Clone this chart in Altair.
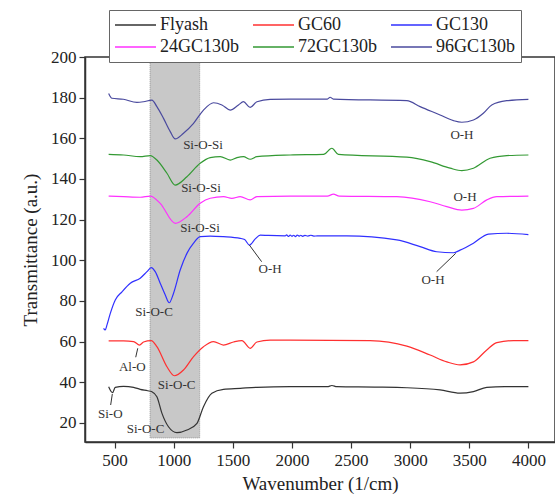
import altair as alt
import pandas as pd

# ---- data ----
series_names = ["Flyash", "GC60", "GC130", "24GC130b", "72GC130b", "96GC130b"]
series_colors = ["#333333", "#ff3030", "#3030ff", "#ff30ff", "#339933", "#4a4a9e"]

flyash_x = [450, 483, 506, 576, 661, 717, 780, 816, 858, 901, 956, 1027, 1112, 1197, 1252, 1323, 1421, 1563, 1704, 1985, 2300, 2338, 2380, 2700, 2972, 3253, 3422, 3535, 3648, 3800, 4000]
flyash_y = [37.8, 34.9, 37.5, 38.0, 37.5, 36.5, 35.8, 35.3, 32.9, 24.7, 18.1, 15.2, 16.5, 19.8, 28.0, 34.6, 36.5, 37.0, 37.5, 37.8, 37.8, 38.4, 37.8, 37.6, 37.3, 36.2, 34.6, 35.4, 37.5, 37.8, 37.8]

gc60_x = [450, 576, 661, 711, 745, 810, 858, 943, 1005, 1083, 1168, 1252, 1337, 1421, 1506, 1577, 1647, 1704, 1816, 1985, 2661, 2972, 3169, 3310, 3422, 3535, 3648, 3733, 3874, 4000]
gc60_y = [60.3, 60.3, 60.0, 58.3, 59.8, 60.5, 57.5, 47.6, 43.2, 46.0, 52.6, 57.5, 60.0, 58.3, 59.8, 60.5, 56.7, 59.8, 60.7, 60.7, 60.5, 57.8, 53.4, 50.0, 48.5, 50.0, 55.9, 59.5, 60.5, 60.5]

gc130_x = [407, 421, 436, 464, 506, 563, 633, 717, 774, 810, 844, 886, 929, 962, 999, 1055, 1112, 1168, 1224, 1309, 1421, 1563, 1600, 1641, 1690, 1732, 1800, 1943, 1955, 1970, 1985, 2000, 2015, 2030, 2045, 2060, 2075, 2090, 2110, 2135, 2160, 2185, 2215, 2464, 2887, 3084, 3225, 3366, 3422, 3535, 3662, 3817, 4000]
gc130_y = [66.5, 65.7, 68.2, 73.9, 80.5, 84.5, 88.7, 91.2, 94.4, 96.4, 94.4, 88.7, 82.9, 79.1, 83.8, 95.2, 103.4, 108.4, 111.6, 111.9, 111.6, 110.8, 110.2, 107.5, 110.5, 112.4, 112.2, 112.0, 112.5, 111.7, 112.4, 111.8, 112.3, 111.6, 112.4, 111.9, 112.3, 111.8, 112.2, 111.9, 112.3, 111.9, 112.0, 112.0, 110.0, 106.7, 104.2, 103.7, 105.0, 108.4, 112.9, 113.3, 112.6]

gc24_x = [450, 576, 717, 802, 886, 1013, 1112, 1224, 1309, 1422, 1492, 1563, 1647, 1704, 1985, 2300, 2351, 2400, 2887, 3169, 3310, 3437, 3535, 3648, 3733, 4000]
gc24_y = [131.6, 131.3, 131.0, 131.6, 128.0, 118.2, 121.4, 128.0, 130.5, 131.3, 130.5, 131.3, 129.7, 131.3, 131.6, 131.6, 132.5, 131.6, 131.3, 128.8, 126.4, 124.7, 125.5, 129.7, 131.3, 131.6]

gc72_x = [450, 576, 717, 802, 858, 943, 1013, 1112, 1224, 1309, 1394, 1478, 1535, 1590, 1647, 1704, 1985, 2267, 2338, 2393, 2972, 3169, 3338, 3437, 3535, 3676, 3817, 4000]
gc72_y = [152.1, 151.8, 151.0, 151.5, 149.3, 142.8, 137.0, 141.1, 147.7, 150.5, 151.0, 149.3, 150.5, 151.0, 149.7, 151.0, 151.8, 152.1, 155.1, 152.1, 150.7, 148.5, 145.3, 144.1, 145.3, 150.2, 151.5, 151.8]

gc96_x = [450, 478, 574, 689, 745, 816, 858, 914, 971, 1013, 1083, 1168, 1252, 1337, 1408, 1478, 1548, 1590, 1647, 1704, 1816, 1985, 2300, 2323, 2350, 2972, 3084, 3253, 3366, 3437, 3535, 3619, 3690, 3817, 4000]
gc96_y = [182.1, 179.7, 179.2, 177.7, 178.0, 178.8, 175.6, 169.8, 163.3, 159.7, 162.5, 167.4, 173.9, 177.5, 176.4, 173.9, 176.4, 178.0, 175.2, 178.0, 179.2, 179.3, 179.3, 180.2, 179.3, 178.5, 175.6, 171.5, 168.7, 167.9, 169.0, 172.3, 176.4, 178.5, 179.2]

# shaded band
band_x = [800]
band_x2 = [1220]
band_y = [12.6]
band_y2 = [200]

# annotations (label, wavenumber, transmittance)
ann_text = ["Si-O-Si", "Si-O-Si", "Si-O-Si", "O-H", "O-H", "O-H", "O-H", "Si-O-C", "Al-O", "Si-O-C", "Si-O", "Si-O-C"]
ann_x = [1248, 1231, 1223, 3438, 3464, 3193, 1815, 834, 650, 1025, 464, 762]
ann_y = [156.7, 135.6, 115.9, 161.6, 131.1, 90.3, 95.7, 74.6, 47.6, 38.6, 24.4, 17.0]

# leader lines
lead_x = [3385, 1640, 696, 481]
lead_y = [103.4, 107.5, 56.7, 34.2]
lead_x2 = [3224, 1744, 679, 467]
lead_y2 = [94.4, 99.3, 52.3, 28.8]

x_ticks = [500, 1000, 1500, 2000, 2500, 3000, 3500, 4000]
y_ticks = [20, 40, 60, 80, 100, 120, 140, 160, 180, 200]

# ---- build tables ----
all_x = [flyash_x, gc60_x, gc130_x, gc24_x, gc72_x, gc96_x]
all_y = [flyash_y, gc60_y, gc130_y, gc24_y, gc72_y, gc96_y]
rows = []
for name, xs, ys in zip(series_names, all_x, all_y):
    for i, (a, b) in enumerate(zip(xs, ys)):
        rows.append({"series": name, "wn": a, "t": b, "order": i})
df = pd.DataFrame(rows)

band_df = pd.DataFrame({"x": band_x, "x2": band_x2, "y": band_y, "y2": band_y2})
ann_df = pd.DataFrame({"label": ann_text, "x": ann_x, "y": ann_y})
lead_df = pd.DataFrame({"x": lead_x, "y": lead_y, "x2": lead_x2, "y2": lead_y2})

FONT = "Liberation Serif, Times New Roman, serif"
xscale = alt.Scale(domain=[250, 4225], nice=False)
yscale = alt.Scale(domain=[10.6, 200], nice=False)

band = alt.Chart(band_df).mark_rect(
    fill="#c8c8c8", stroke="#8a8a8a", strokeDash=[1, 1], strokeWidth=0.8
).encode(
    x=alt.X("x:Q", scale=xscale),
    x2="x2:Q",
    y=alt.Y("y:Q", scale=yscale),
    y2="y2:Q",
)

lines = alt.Chart(df).mark_line(strokeWidth=1.2, interpolate="monotone").encode(
    x=alt.X("wn:Q", scale=xscale,
            axis=alt.Axis(title="Wavenumber (1/cm)", values=x_ticks, format="d",
                          grid=False, tickSize=6, labelPadding=4, titlePadding=6)),
    y=alt.Y("t:Q", scale=yscale,
            axis=alt.Axis(title="Transmittance (a.u.)", values=y_ticks,
                          grid=False, tickSize=6, labelPadding=3, titlePadding=10)),
    color=alt.Color("series:N",
                    scale=alt.Scale(domain=series_names, range=series_colors),
                    sort=series_names,
                    legend=alt.Legend(title=None, orient="none", legendX=24, legendY=-47,
                                      columns=3, direction="horizontal",
                                      symbolType="stroke", symbolSize=1681,
                                      symbolStrokeWidth=1.5, clipHeight=20,
                                      labelFont=FONT, labelFontSize=18, labelColor="#222",
                                      labelOffset=3, columnPadding=12, rowPadding=2,
                                      padding=5, strokeColor="#666", fillColor="white")),
    detail="series:N",
    order="order:Q",
)

leads = alt.Chart(lead_df).mark_rule(color="#333333", strokeWidth=1).encode(
    x=alt.X("x:Q", scale=xscale), y=alt.Y("y:Q", scale=yscale), x2="x2:Q", y2="y2:Q"
)

texts = alt.Chart(ann_df).mark_text(font=FONT, fontSize=13, color="#333333").encode(
    x=alt.X("x:Q", scale=xscale), y=alt.Y("y:Q", scale=yscale), text="label:N"
)

chart = alt.layer(band, lines, leads, texts).properties(
    width=470, height=385,
    autosize=alt.AutoSizeParams(type="none"),
    padding={"left": 85, "top": 57, "right": 0, "bottom": 57},
).configure_view(
    stroke="#333333", strokeWidth=1.5
).configure_axis(
    labelFont=FONT, labelFontSize=17, labelColor="#222",
    titleFont=FONT, titleFontSize=19, titleFontWeight="normal", titleColor="#222",
    domainColor="#333333", tickColor="#333333", domainWidth=1.5, tickWidth=1.2,
)

chart.save("out.html", embed_options={"renderer": "svg", "actions": False})
